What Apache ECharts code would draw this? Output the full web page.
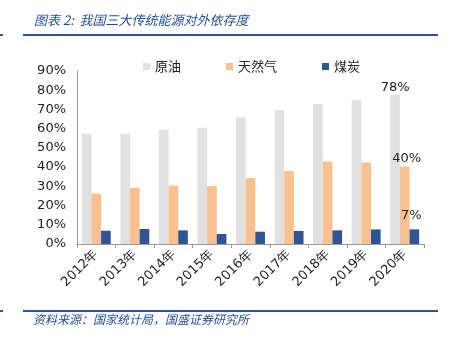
<!DOCTYPE html>
<html><head><meta charset="utf-8">
<script src="https://cdn.jsdelivr.net/npm/echarts@6/dist/echarts.min.js"></script>
<style>html,body{margin:0;padding:0;background:#fff}#c{width:455px;height:337px}</style>
</head><body><div id="c"></div>
<script>
var categories = ['2012年','2013年','2014年','2015年','2016年','2017年','2018年','2019年','2020年'];
var seriesNames = ['原油','天然气','煤炭'];
var oil = [57.4, 57.4, 59.5, 60.5, 66, 69.7, 72.8, 74.9, 77.6];
var gas = [26.2, 29.3, 30.4, 30.1, 34.3, 38, 42.9, 42.4, 40.3];
var coal = [6.9, 7.8, 7.1, 5.2, 6.4, 6.8, 7.1, 7.6, 7.6];
var lastLabels = ['78%', '40%', '7%'];
var yTicks = [0,10,20,30,40,50,60,70,80,90];

var chart = echarts.init(document.getElementById('c'), null, {renderer:'canvas'});
var colors = ['#E1E1E1', '#F8C18F', '#2F5597'];
var blue = '#1F4E9A';
function mk(arr, idx){
  return arr.map(function(v,i){
    if(i === arr.length-1){
      return {value:v, label:{show:true, position:'top', distance: idx===2?4:1, formatter: lastLabels[idx],
        color:'#222', fontSize:13, fontFamily:'DejaVu Sans', offset: idx===2?[-3,-3]:(idx===1?[2,0]:[0,0])}};
    }
    return v;
  });
}
var option = {
  animation:false,
  color: colors,
  legend: {
    top: 55, left: 138, itemWidth: 7, itemHeight: 7, itemGap: 45,
    icon: 'rect',
    textStyle: {fontFamily:'Noto Sans CJK SC', fontSize: 13, color:'#222', padding:[0,0,0,0]},
    data: seriesNames
  },
  grid: {left:77, right:31, top:71, bottom:93},
  xAxis: {
    type:'category', data: categories,
    axisLine:{lineStyle:{color:'#999'}},
    axisTick:{show:true, length:4, lineStyle:{color:'#999'}},
    axisLabel:{rotate:45, color:'#222', fontSize:13, fontFamily:'DejaVu Sans', margin:8, interval:0}
  },
  yAxis: {
    type:'value', min: yTicks[0], max: yTicks[yTicks.length-1], interval: 10,
    axisLine:{show:true, lineStyle:{color:'#999'}},
    axisTick:{show:false},
    splitLine:{show:false},
    axisLabel:{formatter:'{value}%', color:'#222', fontSize:13, fontFamily:'DejaVu Sans', margin:11}
  },
  series: [
    {name:seriesNames[0], type:'bar', data: mk(oil,0), barGap:'0%', barCategoryGap:'25%'},
    {name:seriesNames[1], type:'bar', data: mk(gas,1), barGap:'0%', barCategoryGap:'25%'},
    {name:seriesNames[2], type:'bar', data: mk(coal,2), barGap:'0%', barCategoryGap:'25%'}
  ],
  graphic: [
    {type:'text', left:34, top:14, style:{text:'图表 2:  我国三大传统能源对外依存度', fill: blue,
      font:'italic 13px "Noto Sans CJK SC"'}},
    {type:'rect', shape:{x:23, y:34, width:415, height:2}, style:{fill:'#2E5597'}},
    {type:'rect', shape:{x:0, y:34, width:3, height:2}, style:{fill:'#2E5597'}},
    {type:'rect', shape:{x:23, y:310, width:415, height:2}, style:{fill:'#2E5597'}},
    {type:'rect', shape:{x:0, y:310, width:3, height:2}, style:{fill:'#2E5597'}},
    {type:'text', left:33, top:313, style:{text:'资料来源：国家统计局，国盛证券研究所', fill: blue,
      font:'italic 12px "Noto Sans CJK SC"'}}
  ]
};
chart.setOption(option);
</script></body></html>
